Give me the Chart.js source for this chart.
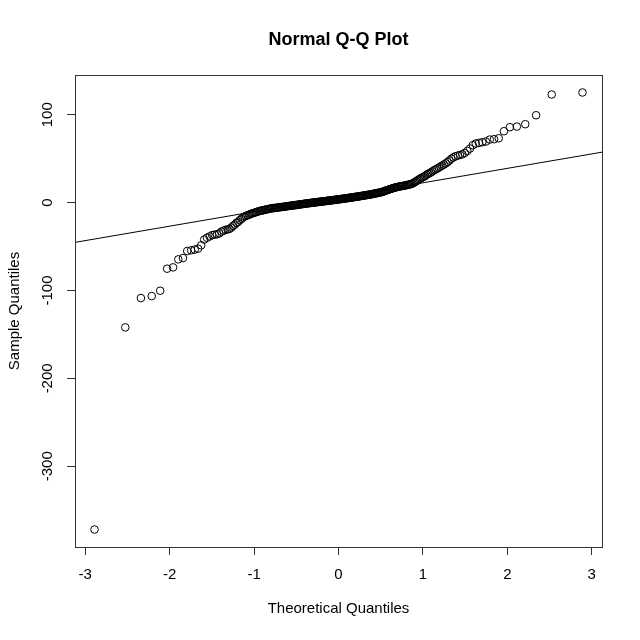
<!DOCTYPE html>
<html>
<head>
<meta charset="utf-8">
<script src="https://cdn.jsdelivr.net/npm/chart.js@4.4.0/dist/chart.umd.min.js"></script>
<style>
  body { margin: 0; background: #fff; }
  #wrap { width: 640px; height: 640px; }
</style>
</head>
<body>
<div id="wrap"><canvas id="qqChart" width="640" height="640"></canvas></div>
<script>
// sorted sample values (n = 260)
const sampleQuantiles = [
  -372, -142, -108.6, -106.4, -100.3, -75.2, -73.7, -64.6, -63.1, -55.1,
  -54.3, -53.5, -52.4, -48.6, -42.1, -40, -38.5, -37, -36.5, -36,
  -35, -33, -32, -31, -30.5, -30, -28.5, -26.5, -25, -23,
  -22, -20, -18.5, -17, -16, -15, -14.5, -14, -13, -12.5,
  -12, -11.5, -11, -10.5, -10, -9.5, -9.2, -9, -8.6, -8.3,
  -8, -7.7, -7.4, -7.1, -6.8, -6.6, -6.4, -6.2, -6.1, -6.0,
  -5.8, -5.6, -5.4, -5.25, -5.1, -5.0, -4.85, -4.7, -4.5, -4.3,
  -4.15, -4.0, -3.85, -3.7, -3.55, -3.4, -3.25, -3.1, -2.95, -2.8,
  -2.65, -2.5, -2.35, -2.2, -2.05, -1.9, -1.75, -1.6, -1.45, -1.3,
  -1.17, -1.04, -0.91, -0.78, -0.65, -0.52, -0.39, -0.26, -0.13, 0,
  0.12, 0.24, 0.36, 0.48, 0.6, 0.72, 0.84, 0.96, 1.08, 1.2,
  1.32, 1.44, 1.56, 1.68, 1.8, 1.92, 2.04, 2.16, 2.28, 2.4,
  2.52, 2.64, 2.76, 2.88, 3.0, 3.12, 3.24, 3.36, 3.48, 3.6,
  3.73, 3.86, 3.99, 4.12, 4.25, 4.38, 4.51, 4.64, 4.77, 4.9,
  5.04, 5.18, 5.32, 5.46, 5.6, 5.74, 5.88, 6.02, 6.16, 6.3,
  6.45, 6.6, 6.75, 6.9, 7.05, 7.2, 7.35, 7.5, 7.65, 7.8,
  7.97, 8.14, 8.31, 8.48, 8.65, 8.82, 8.99, 9.16, 9.33, 9.5,
  9.71, 9.92, 10.13, 10.34, 10.55, 10.76, 10.97, 11.18, 11.39, 11.6,
  11.9, 12.2, 12.5, 12.9, 13.3, 13.7, 14.1, 14.5, 14.9, 15.3,
  15.6, 16.0, 16.4, 16.8, 17.1, 17.3, 17.6, 17.9, 18.2, 18.5,
  18.7, 18.9, 19.1, 19.3, 19.6, 19.9, 20.2, 20.5, 20.8, 21.2,
  21.8, 22.5, 23.3, 24.2, 25.2, 26.2, 27.2, 28, 28.7, 29.4,
  30.5, 31.7, 32.7, 33.5, 34.4, 35.6, 36.8, 37.7, 38.7, 39.8,
  41, 42.2, 43.3, 44.6, 46.2, 48, 50, 51.5, 52.7, 53.5,
  54.2, 55, 56.5, 58.8, 61.5, 65.3, 67.2, 67.9, 68.7, 69.5,
  71.7, 72.1, 73.2, 81.2, 85.8, 86.5, 89.2, 99.4, 123, 125.3
];

const xTicks = [-3, -2, -1, 0, 1, 2, 3];
const yTicks = [-300, -200, -100, 0, 100];
const yTickLabels = ['-300', '-200', '-100', '0', '100'];
const chartTitle = 'Normal Q-Q Plot';

const FONT = 'Liberation Sans, Arial, Helvetica, sans-serif';

// inverse normal cdf (Acklam)
function qnorm(p) {
  const a = [-3.969683028665376e+01, 2.209460984245205e+02, -2.759285104469687e+02, 1.383577518672690e+02, -3.066479806614716e+01, 2.506628277459239e+00];
  const b = [-5.447609879822406e+01, 1.615858368580409e+02, -1.556989798598866e+02, 6.680131188771972e+01, -1.328068155288572e+01];
  const c = [-7.784894002430293e-03, -3.223964580411365e-01, -2.400758277161838e+00, -2.549732539343734e+00, 4.374664141464968e+00, 2.938163982698783e+00];
  const d = [7.784695709041462e-03, 3.224671290700398e-01, 2.445134137142996e+00, 3.754408661907416e+00];
  const plow = 0.02425;
  let q, r;
  if (p < plow) {
    q = Math.sqrt(-2 * Math.log(p));
    return (((((c[0]*q+c[1])*q+c[2])*q+c[3])*q+c[4])*q+c[5]) / ((((d[0]*q+d[1])*q+d[2])*q+d[3])*q+1);
  }
  if (p <= 1 - plow) {
    q = p - 0.5; r = q * q;
    return (((((a[0]*r+a[1])*r+a[2])*r+a[3])*r+a[4])*r+a[5])*q / (((((b[0]*r+b[1])*r+b[2])*r+b[3])*r+b[4])*r+1);
  }
  q = Math.sqrt(-2 * Math.log(1 - p));
  return -(((((c[0]*q+c[1])*q+c[2])*q+c[3])*q+c[4])*q+c[5]) / ((((d[0]*q+d[1])*q+d[2])*q+d[3])*q+1);
}

// R quantile type 7
function quantile7(sorted, p) {
  const h = (sorted.length - 1) * p;
  const lo = Math.floor(h);
  return sorted[lo] + (h - lo) * (sorted[Math.min(lo + 1, sorted.length - 1)] - sorted[lo]);
}

const n = sampleQuantiles.length;
const points = sampleQuantiles.map((y, i) => ({ x: qnorm((i + 1 - 0.5) / n), y: y }));

// axis limits like R (4% padding)
const xr = [points[0].x, points[n - 1].x];
const yr = [sampleQuantiles[0], sampleQuantiles[n - 1]];
const xMin = xr[0] - 0.04 * (xr[1] - xr[0]);
const xMax = xr[1] + 0.04 * (xr[1] - xr[0]);
const yMin = yr[0] - 0.04 * (yr[1] - yr[0]);
const yMax = yr[1] + 0.04 * (yr[1] - yr[0]);

// qqline through the quartiles
const q1 = quantile7(sampleQuantiles, 0.25), q3 = quantile7(sampleQuantiles, 0.75);
const z1 = qnorm(0.25), z3 = qnorm(0.75);
const slope = (q3 - q1) / (z3 - z1);
const intercept = q1 - slope * z1;
const linePts = [xMin, xMax].map(x => ({ x: x, y: intercept + slope * x }));

const boxPlugin = {
  id: 'rBox',
  beforeDraw(chart) {
    const ctx = chart.ctx;
    ctx.save();
    ctx.fillStyle = '#fff';
    ctx.fillRect(0, 0, chart.width, chart.height);
    ctx.restore();
  },
  afterDraw(chart) {
    const ctx = chart.ctx;
    const a = chart.chartArea;
    ctx.save();
    ctx.strokeStyle = '#333';
    ctx.lineWidth = 1;
    ctx.strokeRect(Math.round(a.left) + 0.5, Math.round(a.top) + 0.5,
      Math.round(a.right - a.left), Math.round(a.bottom - a.top));
    // title centred over the plot region, like R
    ctx.fillStyle = '#000';
    ctx.textAlign = 'center';
    ctx.textBaseline = 'middle';
    ctx.font = 'bold 18px ' + FONT;
    ctx.fillText(chartTitle, (a.left + a.right) / 2, a.top - 35);
    // rotated y tick labels (R style)
    const ys = chart.scales.y;
    ctx.font = '15px ' + FONT;
    yTicks.forEach((v, i) => {
      ctx.save();
      ctx.translate(a.left - 27, ys.getPixelForValue(v));
      ctx.rotate(-Math.PI / 2);
      ctx.fillText(yTickLabels[i], 0, 0);
      ctx.restore();
    });
    ctx.restore();
  }
};

new Chart(document.getElementById('qqChart'), {
  type: 'scatter',
  data: {
    datasets: [{
      data: points,
      pointStyle: 'circle',
      pointRadius: 3.8,
      pointBorderWidth: 1,
      pointBorderColor: '#000',
      pointBackgroundColor: 'rgba(0,0,0,0)',
      showLine: false
    }, {
      type: 'line',
      data: linePts,
      borderColor: '#000',
      borderWidth: 1,
      pointRadius: 0,
      fill: false
    }]
  },
  options: {
    responsive: false,
    animation: false,
    layout: { padding: { left: 0, right: 38, top: 75, bottom: 0 } },
    plugins: {
      legend: { display: false },
      tooltip: { enabled: false },
      title: { display: false }
    },
    scales: {
      x: {
        type: 'linear',
        min: xMin,
        max: xMax,
        afterBuildTicks: s => { s.ticks = xTicks.map(v => ({ value: v })); },
        afterFit: s => { s.height = 93; },
        grid: { display: true, drawOnChartArea: false, drawTicks: true, tickLength: 8, tickColor: '#333' },
        border: { display: false },
        ticks: { color: '#000', padding: 11, maxRotation: 0, font: { family: FONT, size: 15 } },
        title: {
          display: true,
          text: 'Theoretical Quantiles',
          color: '#000',
          font: { family: FONT, size: 15 },
          padding: { top: 0, bottom: 22 }
        }
      },
      y: {
        type: 'linear',
        min: yMin,
        max: yMax,
        afterBuildTicks: s => { s.ticks = yTicks.map(v => ({ value: v })); },
        afterFit: s => { s.width = 75; },
        grid: { display: true, drawOnChartArea: false, drawTicks: true, tickLength: 8, tickColor: '#333' },
        border: { display: false },
        ticks: { display: false },
        title: {
          display: true,
          text: 'Sample Quantiles',
          color: '#000',
          font: { family: FONT, size: 15 },
          padding: { top: 6, bottom: 0 }
        }
      }
    }
  },
  plugins: [boxPlugin]
});
</script>
</body>
</html>
